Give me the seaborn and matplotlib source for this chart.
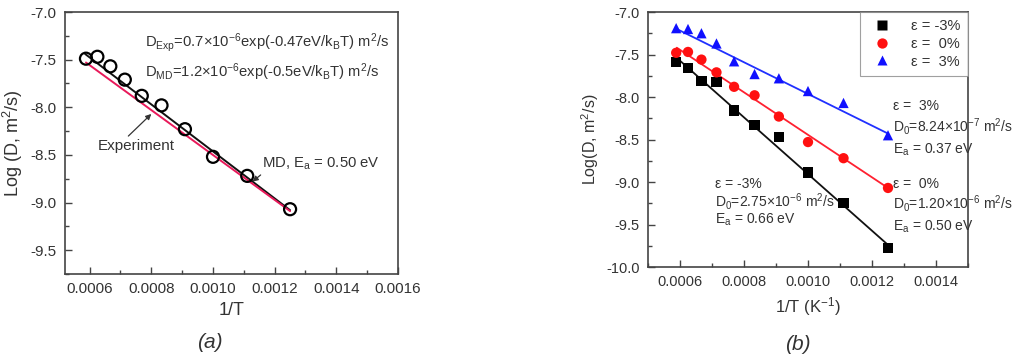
import numpy as np
import pandas as pd
import seaborn as sns
import matplotlib.pyplot as plt
from matplotlib.ticker import MultipleLocator, FormatStrFormatter

# data
inv_T = [0.000588, 0.000625, 0.000667, 0.000714, 0.000769, 0.000833, 0.000909, 0.001, 0.001111, 0.00125]

# panel (a): simulation points and the two fitted lines
logD_a = [-7.49, -7.47, -7.57, -7.71, -7.88, -7.98, -8.23, -8.52, -8.72, -9.07]
exp_line_x = [0.000585, 0.00125]
exp_line_y = [-7.44, -9.08]
md_line_x = [0.000588, 0.00125]
md_line_y = [-7.53, -9.09]

# panel (b): three strain values
strain_labels = ['ε = -3%', 'ε =  0%', 'ε =  3%']
logD_m3 = [-7.59, -7.66, -7.81, -7.82, -8.16, -8.33, -8.47, -8.89, -9.25, -9.78]
logD_0 = [-7.48, -7.47, -7.56, -7.71, -7.88, -7.98, -8.23, -8.53, -8.72, -9.07]
logD_p3 = [-7.19, -7.20, -7.25, -7.37, -7.58, -7.73, -7.78, -7.93, -8.07, -8.45]
fit_x = [0.00059, 0.00125]
fit_m3 = [-7.54, -9.74]
fit_0 = [-7.42, -9.07]
fit_p3 = [-7.20, -8.43]

sns.set_theme(style="ticks")
plt.rcParams['font.family'] = ['Liberation Sans', 'DejaVu Sans']
plt.rcParams['mathtext.fontset'] = 'custom'
plt.rcParams['mathtext.rm'] = 'Liberation Sans'
plt.rcParams['mathtext.it'] = 'Liberation Sans:italic'
gray = '#333333'

fig = plt.figure(figsize=(10.16, 3.58), dpi=100)
ax1 = fig.add_axes([65 / 1016, (358 - 274) / 358, (398 - 65) / 1016, (274 - 12) / 358])
ax2 = fig.add_axes([648 / 1016, (358 - 267) / 358, (968 - 648) / 1016, (267 - 12) / 358])


def style_axes(ax, labelsize):
    for s in ax.spines.values():
        s.set_color('#444444')
        s.set_linewidth(1.2)
    ax.xaxis.set_major_locator(MultipleLocator(0.0002))
    ax.xaxis.set_minor_locator(MultipleLocator(0.0001))
    ax.yaxis.set_major_locator(MultipleLocator(0.5))
    ax.yaxis.set_minor_locator(MultipleLocator(0.25))
    ax.xaxis.set_major_formatter(FormatStrFormatter('%.4f'))
    ax.yaxis.set_major_formatter(FormatStrFormatter('%.1f'))
    ax.tick_params(which='major', direction='in', length=5, width=1, color='#444444',
                   labelsize=labelsize, labelcolor=gray, pad=6)
    ax.tick_params(which='minor', direction='in', length=3, width=1, color='#444444')


arrow_kw = dict(arrowstyle='-|>', mutation_scale=8, color='#333333', lw=0.9, shrinkA=0, shrinkB=0)

# ---- panel (a)
df_a = pd.DataFrame({'x': inv_T, 'y': logD_a})
sns.lineplot(x=exp_line_x, y=exp_line_y, ax=ax1, color='#111111', lw=1.4)
sns.lineplot(x=md_line_x, y=md_line_y, ax=ax1, color='#e8195a', lw=1.4)
sns.scatterplot(data=df_a, x='x', y='y', ax=ax1, marker='o', s=75,
                facecolor='none', edgecolor='black', linewidth=1.6, zorder=3)
ax1.set_xlim(0.00052, 0.0016)
ax1.set_ylim(-9.75, -7.0)
style_axes(ax1, 11)
ax1.set_xlabel('1/T', fontsize=13, color=gray)
ax1.set_ylabel('Log (D, m$^2$/s)', fontsize=13, color=gray)

ax1.text(0.00078, -7.32, r'D$_{\rm Exp}$=0.7$\times$10$^{-6}$exp(-0.47eV/k$_{\rm B}$T) m$^2$/s',
         fontsize=10.6, color=gray, va='center')
ax1.text(0.00078, -7.63, r'D$_{\rm MD}$=1.2$\times$10$^{-6}$exp(-0.5eV/k$_{\rm B}$T) m$^2$/s',
         fontsize=10.6, color=gray, va='center')
ax1.annotate('Experiment', xy=(0.0008, -8.07), xytext=(0.000627, -8.41),
             fontsize=11, color=gray, va='center',
             arrowprops=dict(relpos=(0.35, 1.0), **arrow_kw))
ax1.annotate(r'MD, E$_{\rm a}$ = 0.50 eV', xy=(0.001128, -8.78), xytext=(0.00116, -8.59),
             fontsize=10.7, color=gray, va='center',
             arrowprops=dict(relpos=(0.02, 0.0), **arrow_kw))

# ---- panel (b)
df_b = pd.DataFrame({
    'x': inv_T * 3,
    'y': logD_m3 + logD_0 + logD_p3,
    'strain': [strain_labels[0]] * 10 + [strain_labels[1]] * 10 + [strain_labels[2]] * 10,
})
colors = ['black', '#ff1010', '#1010ff']
sns.lineplot(x=fit_x, y=fit_m3, ax=ax2, color='#111111', lw=1.3)
sns.lineplot(x=fit_x, y=fit_0, ax=ax2, color='#ff2030', lw=1.3)
sns.lineplot(x=fit_x, y=fit_p3, ax=ax2, color='#2030ff', lw=1.3)
sns.scatterplot(data=df_b, x='x', y='y', hue='strain', style='strain', ax=ax2,
                palette=colors, markers=['s', 'o', '^'], s=55, edgecolor='none',
                zorder=3)
ax2.set_xlim(0.0005, 0.0015)
ax2.set_ylim(-10.0, -7.0)
style_axes(ax2, 10.5)
ax2.set_xlabel('1/T (K$^{-1}$)', fontsize=12, color=gray)
ax2.set_ylabel('Log(D, m$^2$/s)', fontsize=11.5, color=gray)

leg = ax2.legend(loc='upper right', bbox_to_anchor=(1.0, 1.0), borderaxespad=0,
                 fontsize=10.5, frameon=True, fancybox=False, handletextpad=1.0,
                 borderpad=0.5, labelspacing=0.25, markerscale=1.0)
leg.get_frame().set_edgecolor('#888888')
leg.get_frame().set_linewidth(0.8)
for t in leg.get_texts():
    t.set_color(gray)

ax2.text(0.000708, -9.02, 'ε = -3%', fontsize=10, color=gray, va='center')
ax2.text(0.000708, -9.23, r'D$_0$=2.75$\times$10$^{-6}$ m$^2$/s', fontsize=10, color=gray, va='center')
ax2.text(0.000708, -9.45, r'E$_{\rm a}$ = 0.66 eV', fontsize=10, color=gray, va='center')
ax2.text(0.001267, -8.11, 'ε =  3%', fontsize=10, color=gray, va='center')
ax2.text(0.001267, -8.35, r'D$_0$=8.24$\times$10$^{-7}$ m$^2$/s', fontsize=10, color=gray, va='center')
ax2.text(0.001267, -8.62, r'E$_{\rm a}$ = 0.37 eV', fontsize=10, color=gray, va='center')
ax2.text(0.001267, -9.02, 'ε =  0%', fontsize=10, color=gray, va='center')
ax2.text(0.001267, -9.25, r'D$_0$=1.20$\times$10$^{-6}$ m$^2$/s', fontsize=10, color=gray, va='center')
ax2.text(0.001267, -9.53, r'E$_{\rm a}$ = 0.50 eV', fontsize=10, color=gray, va='center')

fig.text(210 / 1016, 1 - 343 / 358, '(a)', fontsize=15, style='italic', color=gray,
         ha='center', va='center')
fig.text(798 / 1016, 1 - 345 / 358, '(b)', fontsize=15, style='italic', color=gray,
         ha='center', va='center')

fig.savefig('out.png', dpi=100)
